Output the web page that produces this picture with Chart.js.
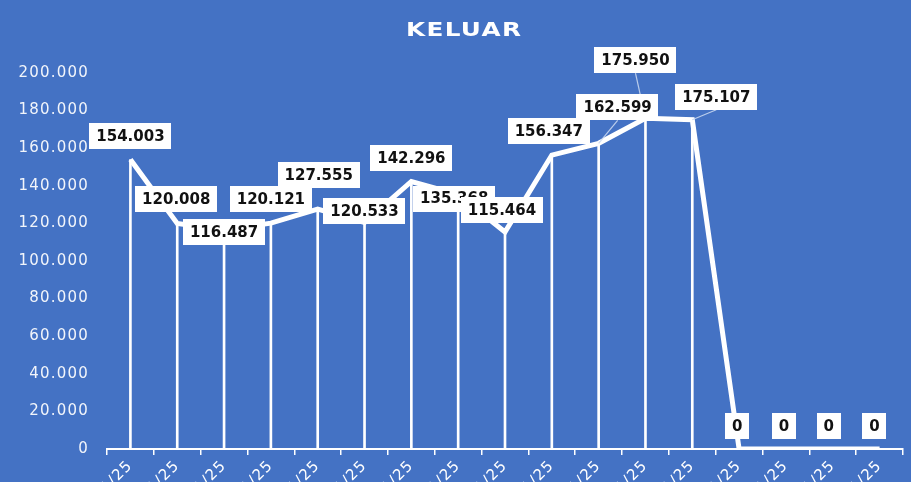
<!DOCTYPE html>
<html>
<head>
<meta charset="utf-8">
<script src="https://cdn.jsdelivr.net/npm/chart.js@4.4.1/dist/chart.umd.min.js"></script>
<style>
  html, body { margin: 0; padding: 0; background: #4472c4; overflow: hidden; }
  canvas { display: block; }
</style>
</head>
<body>
<canvas id="c" width="911" height="482"></canvas>
<script>
// Periods on the category axis
const categories = [
  '01/01/25', '02/01/25', '03/01/25', '04/01/25', '05/01/25', '06/01/25',
  '07/01/25', '08/01/25', '09/01/25', '10/01/25', '11/01/25', '12/01/25',
  '13/01/25', '14/01/25', '15/01/25', '16/01/25', '17/01/25'
];

// Outgoing totals per period
const keluar = [
  154003, 120008, 116487, 120121, 127555, 120533, 142296, 135368,
  115464, 156347, 162599, 175950, 175107, 0, 0, 0, 0
];

// Value-axis ticks
const yTickValues = [0, 20000, 40000, 60000, 80000, 100000, 120000, 140000, 160000, 180000, 200000];

// Where each value label sits relative to its point (px), and which get a leader line
const labelShift = [
  [0, -23], [-1, -24], [0, 2], [0, -24], [1, -34], [0, -11], [0, -23], [-4, 4],
  [-3, -22], [-3, -24], [19, -36], [-10, -58], [24, -23], [-2, -23], [-2, -23], [-4, -23], [-5, -23]
];
const withLeader = [
  false, false, false, false, false, false, false, false,
  false, false, true, true, true, false, false, false, false
];

const fmt = v => v.toLocaleString('de-DE');

// Slightly wider tracking for the axis text
const axisTracking = {
  id: 'axisTracking',
  beforeDraw(chart) { chart.ctx.letterSpacing = '1.2px'; },
  beforeDatasetsDraw(chart) { chart.ctx.letterSpacing = '0px'; }
};

const valueLabels = {
  id: 'valueLabels',
  afterDatasetsDraw(chart) {
    const meta = chart.getDatasetMeta(0);
    const ctx = chart.ctx;
    ctx.save();
    ctx.letterSpacing = '0px';
    ctx.font = 'bold 15px "DejaVu Sans"';
    const boxes = meta.data.map((pt, i) => {
      const txt = fmt(keluar[i]);
      const w = ctx.measureText(txt).width + 14;
      const h = 26;
      const cx = pt.x + labelShift[i][0];
      const cy = pt.y + labelShift[i][1];
      return { txt, w, h, cx, cy, px: pt.x, py: pt.y };
    });
    ctx.strokeStyle = 'rgba(200,215,240,0.9)';
    ctx.lineWidth = 1.2;
    boxes.forEach((b, i) => {
      if (!withLeader[i]) return;
      ctx.beginPath();
      ctx.moveTo(b.cx, b.cy + b.h / 2);
      ctx.lineTo(b.px, b.py);
      ctx.stroke();
    });
    ctx.textAlign = 'center';
    ctx.textBaseline = 'middle';
    boxes.forEach(b => {
      ctx.fillStyle = '#ffffff';
      ctx.fillRect(Math.round(b.cx - b.w / 2), Math.round(b.cy - b.h / 2), Math.round(b.w), b.h);
      ctx.fillStyle = '#111111';
      ctx.fillText(b.txt, b.cx, b.cy + 1);
    });
    ctx.restore();
  }
};

const titleText = {
  id: 'titleText',
  afterDraw(chart) {
    const ctx = chart.ctx;
    ctx.save();
    ctx.translate(chart.width / 2 + 8, 31);
    ctx.scale(1.3, 1);
    ctx.font = 'bold 19px "DejaVu Sans"';
    ctx.letterSpacing = '1px';
    ctx.fillStyle = '#ffffff';
    ctx.textAlign = 'center';
    ctx.textBaseline = 'middle';
    ctx.fillText('KELUAR', 0.5, 0);
    ctx.restore();
  }
};

new Chart(document.getElementById('c'), {
  type: 'bar',
  data: {
    labels: categories,
    datasets: [
      {
        type: 'line',
        data: keluar,
        borderColor: '#ffffff',
        borderWidth: 5,
        pointRadius: 0,
        tension: 0,
        order: 0
      },
      {
        type: 'bar',
        data: keluar,
        backgroundColor: '#ffffff',
        barThickness: 2,
        order: 1
      }
    ]
  },
  options: {
    responsive: false,
    animation: false,
    devicePixelRatio: 1,
    layout: { padding: { top: 73, left: 0, right: 8, bottom: 0 } },
    plugins: {
      legend: { display: false },
      tooltip: { enabled: false },
      title: { display: false }
    },
    scales: {
      x: {
        type: 'category',
        offset: true,
        grid: {
          offset: true,
          drawOnChartArea: false,
          color: '#ffffff',
          lineWidth: 1.5,
          tickLength: 6
        },
        border: { display: true, color: '#ffffff', width: 2 },
        ticks: {
          color: '#ffffff',
          font: { family: 'DejaVu Sans', size: 15 },
          minRotation: 45,
          maxRotation: 45,
          autoSkip: false,
          padding: 2
        },
        afterFit(scale) { scale.height = 33; }
      },
      y: {
        min: 0,
        max: 200000,
        grid: { display: false },
        border: { display: false },
        ticks: {
          color: 'rgba(255,255,255,0.93)',
          font: { family: 'DejaVu Sans', size: 15 },
          padding: 10,
          callback: v => fmt(v)
        },
        afterBuildTicks(scale) { scale.ticks = yTickValues.map(v => ({ value: v })); },
        afterFit(scale) { scale.width = 107; }
      }
    }
  },
  plugins: [axisTracking, valueLabels, titleText]
});
</script>
</body>
</html>
